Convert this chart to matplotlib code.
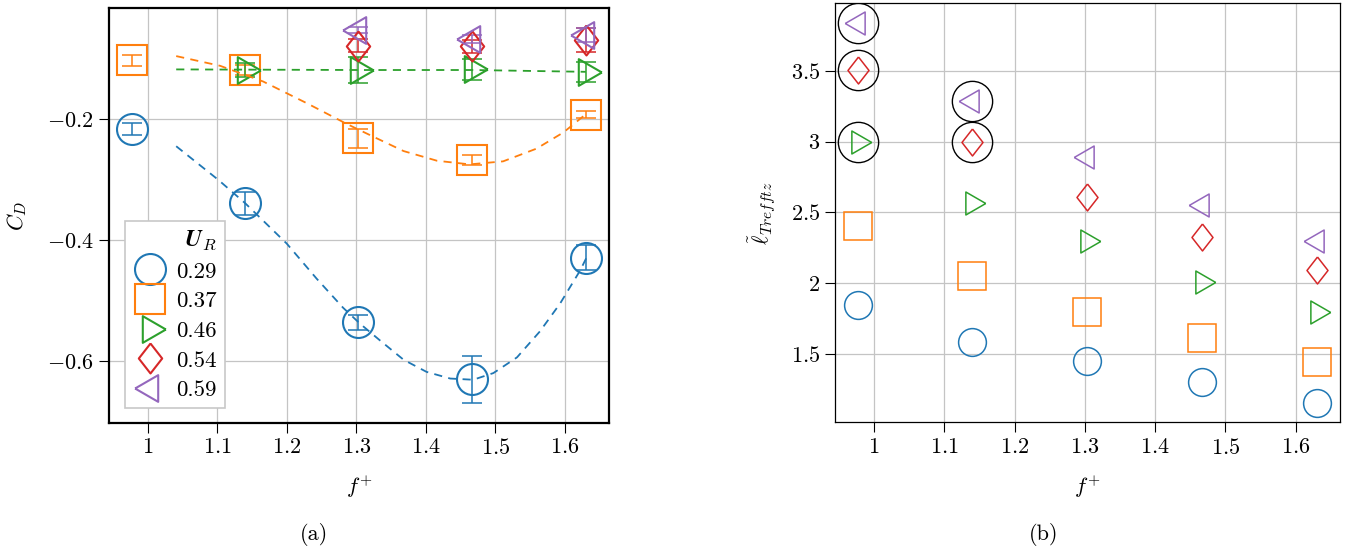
import numpy as np
import matplotlib
matplotlib.use("Agg")
import matplotlib.pyplot as plt
from matplotlib.lines import Line2D
from matplotlib.ticker import FuncFormatter

plt.rcParams.update({
    "font.family": "serif",
    "font.serif": ["cmr10"],
    "mathtext.fontset": "cm",
    "axes.unicode_minus": True,
    "font.size": 16,
})

# ── data ──────────────────────────────────────────────────────────────────────
U_R = ["0.29", "0.37", "0.46", "0.54", "0.59"]
F_PLUS = [0.977, 1.140, 1.303, 1.467, 1.630]

# (a) drag coefficient with error bars
CD_029 = [-0.217, -0.339, -0.536, -0.630, -0.429]
CD_029_ERR = [0.010, 0.019, 0.012, 0.039, 0.020]
CD_037 = [-0.103, -0.119, -0.232, -0.268, -0.193]
CD_037_ERR = [0.009, 0.008, 0.016, 0.008, 0.006]
F_046 = [1.140, 1.303, 1.467, 1.630]
CD_046 = [-0.119, -0.119, -0.118, -0.122]
CD_046_ERR = [0.011, 0.022, 0.018, 0.017]
F_054 = [1.303, 1.467, 1.630]
CD_054 = [-0.079, -0.080, -0.070]
CD_054_ERR = [0.011, 0.011, 0.020]
F_059 = [1.303, 1.467, 1.630]
CD_059 = [-0.053, -0.068, -0.061]
CD_059_ERR = [0.005, 0.007, 0.012]

FIT_029_F = [1.041, 1.102, 1.140, 1.200, 1.243, 1.281, 1.305, 1.334, 1.368,
             1.401, 1.435, 1.468, 1.497, 1.531, 1.564, 1.593, 1.622, 1.634]
FIT_029_CD = [-0.245, -0.301, -0.339, -0.406, -0.464, -0.512, -0.538, -0.566,
              -0.598, -0.618, -0.629, -0.631, -0.620, -0.594, -0.551, -0.505,
              -0.450, -0.422]
FIT_037_F = [1.041, 1.104, 1.166, 1.229, 1.286, 1.324, 1.368, 1.416, 1.463,
             1.511, 1.559, 1.598, 1.630]
FIT_037_CD = [-0.096, -0.112, -0.138, -0.174, -0.208, -0.229, -0.253, -0.269,
              -0.275, -0.270, -0.249, -0.222, -0.192]
FIT_046_F = [1.041, 1.303, 1.467, 1.630]
FIT_046_CD = [-0.118, -0.119, -0.119, -0.122]

# (b) Trefftz length
LEN_029 = [1.845, 1.587, 1.453, 1.304, 1.152]
LEN_037 = [2.403, 2.050, 1.800, 1.611, 1.446]
LEN_046 = [3.000, 2.570, 2.300, 2.006, 1.800]
LEN_054 = [3.510, 3.000, 2.610, 2.330, 2.090]
LEN_059 = [3.840, 3.290, 2.890, 2.550, 2.297]
RING_F = [0.977, 0.977, 0.977, 1.140, 1.140]
RING_LEN = [3.840, 3.510, 3.000, 3.290, 3.000]

# ── styles ────────────────────────────────────────────────────────────────────
COLORS = ["#1f77b4", "#ff7f0e", "#2ca02c", "#d62728", "#9467bd"]
TRI_R = [(1, 0), (-0.5, 0.866), (-0.5, -0.866), (1, 0)]
TRI_L = [(-1, 0), (0.5, 0.866), (0.5, -0.866), (-1, 0)]
DIAM = [(0, 1), (0.78, 0), (0, -1), (-0.78, 0), (0, 1)]
MARKERS = ["o", "s", TRI_R, DIAM, TRI_L]
MS_A = [22.3, 22.3, 22.2, 21.6, 22.2]
MS_B = [20.0, 19.5, 19.1, 19.4, 19.1]

fmt = FuncFormatter(lambda v, p: f"${v:g}$")


def style_axes(ax, lw):
    ax.set_xlim(0.9448, 1.6633)
    ax.set_xticks([1.0, 1.1, 1.2, 1.3, 1.4, 1.5, 1.6])
    ax.xaxis.set_major_formatter(fmt)
    ax.yaxis.set_major_formatter(fmt)
    ax.grid(True, color="#c4c4c4", linewidth=0.9)
    ax.set_axisbelow(True)
    ax.tick_params(direction="out", length=7, width=0.8, labelsize=16, pad=4)
    for sp in ax.spines.values():
        sp.set_linewidth(lw)
        sp.set_color("black")


fig = plt.figure(figsize=(13.5, 5.52), dpi=100)
ax1 = fig.add_axes([0.08096, 0.23424, 0.37015, 0.75072])
ax2 = fig.add_axes([0.61874, 0.23496, 0.37385, 0.75906])

# ── panel (a) ─────────────────────────────────────────────────────────────────
series_a = [
    (F_PLUS, CD_029, CD_029_ERR),
    (F_PLUS, CD_037, CD_037_ERR),
    (F_046, CD_046, CD_046_ERR),
    (F_054, CD_054, CD_054_ERR),
    (F_059, CD_059, CD_059_ERR),
]
for (fx, cd, err), c, m, ms in zip(series_a, COLORS, MARKERS, MS_A):
    ax1.errorbar(fx, cd, yerr=err, fmt="none", ecolor=c, elinewidth=1.1,
                 capsize=7, capthick=1.1, zorder=3)
    ax1.plot(fx, cd, ls="none", marker=m, ms=ms, mfc="none", mec=c,
             mew=1.5, zorder=4)

for fx, cd, c in [(FIT_029_F, FIT_029_CD, COLORS[0]),
                  (FIT_037_F, FIT_037_CD, COLORS[1]),
                  (FIT_046_F, FIT_046_CD, COLORS[2])]:
    ln, = ax1.plot(fx, cd, color=c, lw=1.3, zorder=5)
    ln.set_dashes([4.5, 3.5])

style_axes(ax1, 1.6)
ax1.set_ylim(-0.702, -0.017)
ax1.set_yticks([-0.6, -0.4, -0.2])
ax1.set_xlabel("$f^{+}$", fontsize=16)
ax1.xaxis.label.set_va("center")
ax1.xaxis.set_label_coords(0.5, -0.155)
ax1.set_ylabel("$C_D$", fontsize=16)
ax1.yaxis.label.set_va("center")
ax1.yaxis.set_label_coords(-0.185, 0.5)

handles = [Line2D([], [], ls="none", marker=m, ms=ms, mfc="none", mec=c, mew=1.5)
           for c, m, ms in zip(COLORS, MARKERS, MS_A)]
leg = ax1.legend(handles, U_R, title=r"$\boldsymbol{U}_R$", loc="lower left",
                 bbox_to_anchor=(0.031, 0.035), borderaxespad=0,
                 fancybox=False, framealpha=1, edgecolor="#c8c8c8",
                 fontsize=16.5, title_fontsize=17, labelspacing=0.42,
                 handlelength=1.5, handletextpad=0.4, borderpad=0.35,
                 alignment="right")
leg.get_frame().set_linewidth(1.2)

# ── panel (b) ─────────────────────────────────────────────────────────────────
series_b = [LEN_029, LEN_037, LEN_046, LEN_054, LEN_059]
for ln_vals, c, m, ms in zip(series_b, COLORS, MARKERS, MS_B):
    ax2.plot(F_PLUS, ln_vals, ls="none", marker=m, ms=ms, mfc="none", mec=c,
             mew=1.1, zorder=4)
ax2.plot(RING_F, RING_LEN, ls="none", marker="o", ms=29, mfc="none",
         mec="black", mew=1.0, zorder=5)

style_axes(ax2, 0.9)
ax2.set_ylim(1.017, 3.978)
ax2.set_yticks([1.5, 2.0, 2.5, 3.0, 3.5])
ax2.set_xlabel("$f^{+}$", fontsize=16)
ax2.xaxis.label.set_va("center")
ax2.xaxis.set_label_coords(0.5, -0.154)
ax2.set_ylabel(r"$\tilde{\ell}_{Trefftz}$", fontsize=16)
ax2.yaxis.label.set_va("center")
ax2.yaxis.set_label_coords(-0.145, 0.5)

fig.text(314 / 1350, 1 - 535 / 552, "(a)", ha="center", va="center", fontsize=16)
fig.text(1044 / 1350, 1 - 535 / 552, "(b)", ha="center", va="center", fontsize=16)

fig.savefig("out.png", dpi=100)
